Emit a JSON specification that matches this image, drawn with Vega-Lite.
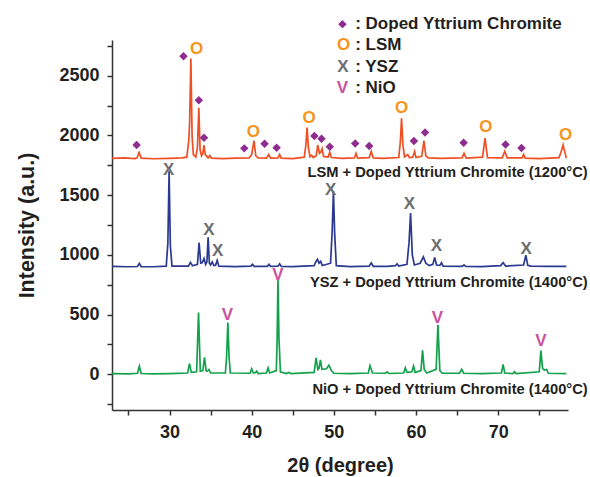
{
  "$schema": "https://vega.github.io/schema/vega-lite/v6.json",
  "width": 456,
  "height": 370,
  "autosize": {"type": "none"},
  "padding": {"left": 112, "top": 40, "right": 22, "bottom": 67},
  "background": "white",
  "config": {
    "view": {"stroke": null},
    "font": "Liberation Sans",
    "axis": {
      "grid": false,
      "domainColor": "#333333",
      "domainWidth": 1.5,
      "tickColor": "#333333",
      "tickWidth": 1.5,
      "tickSize": 5,
      "labelFont": "Liberation Sans",
      "labelFontWeight": "bold",
      "labelFontSize": 18,
      "labelColor": "#231f20",
      "titleFont": "Liberation Sans",
      "titleFontWeight": "bold",
      "titleFontSize": 20,
      "titleColor": "#231f20"
    }
  },
  "resolve": {"scale": {"color": "independent"}},
  "datasets": {
    "lines": [
      {"s":"L","x":23,"y":1808},{"s":"L","x":24.5,"y":1812},{"s":"L","x":25.8,"y":1806},{"s":"L","x":26.05,"y":1812},{"s":"L","x":26.3,"y":1858},{"s":"L","x":26.55,"y":1810},{"s":"L","x":28,"y":1805},{"s":"L","x":30,"y":1808},{"s":"L","x":31.5,"y":1812},{"s":"L","x":32.1,"y":1818},{"s":"L","x":32.35,"y":1960},{"s":"L","x":32.45,"y":2110},{"s":"L","x":32.6,"y":2645},{"s":"L","x":32.75,"y":1990},{"s":"L","x":32.9,"y":1840},{"s":"L","x":33.2,"y":1820},{"s":"L","x":33.4,"y":1900},{"s":"L","x":33.57,"y":2233},{"s":"L","x":33.72,"y":1880},{"s":"L","x":33.9,"y":1830},{"s":"L","x":34.05,"y":1850},{"s":"L","x":34.2,"y":1920},{"s":"L","x":34.35,"y":1840},{"s":"L","x":34.7,"y":1812},{"s":"L","x":34.9,"y":1832},{"s":"L","x":35.1,"y":1810},{"s":"L","x":36.5,"y":1806},{"s":"L","x":38,"y":1810},{"s":"L","x":39.7,"y":1812},{"s":"L","x":40.0,"y":1840},{"s":"L","x":40.28,"y":1956},{"s":"L","x":40.5,"y":1830},{"s":"L","x":40.8,"y":1812},{"s":"L","x":41.8,"y":1810},{"s":"L","x":42.07,"y":1840},{"s":"L","x":42.3,"y":1810},{"s":"L","x":43.2,"y":1812},{"s":"L","x":43.4,"y":1840},{"s":"L","x":43.6,"y":1810},{"s":"L","x":45,"y":1806},{"s":"L","x":46.4,"y":1818},{"s":"L","x":46.6,"y":1920},{"s":"L","x":46.74,"y":2067},{"s":"L","x":46.9,"y":1900},{"s":"L","x":47.1,"y":1822},{"s":"L","x":47.3,"y":1835},{"s":"L","x":47.5,"y":1815},{"s":"L","x":47.85,"y":1830},{"s":"L","x":48.04,"y":1920},{"s":"L","x":48.25,"y":1850},{"s":"L","x":48.4,"y":1860},{"s":"L","x":48.57,"y":1890},{"s":"L","x":48.75,"y":1825},{"s":"L","x":49.3,"y":1820},{"s":"L","x":49.5,"y":1860},{"s":"L","x":49.7,"y":1815},{"s":"L","x":51,"y":1808},{"s":"L","x":52.5,"y":1812},{"s":"L","x":52.7,"y":1850},{"s":"L","x":52.9,"y":1810},{"s":"L","x":54.3,"y":1815},{"s":"L","x":54.55,"y":1867},{"s":"L","x":54.8,"y":1812},{"s":"L","x":56,"y":1808},{"s":"L","x":57.9,"y":1815},{"s":"L","x":58.1,"y":1950},{"s":"L","x":58.24,"y":2145},{"s":"L","x":58.4,"y":1930},{"s":"L","x":58.6,"y":1820},{"s":"L","x":59.0,"y":1840},{"s":"L","x":59.2,"y":1815},{"s":"L","x":59.6,"y":1818},{"s":"L","x":59.83,"y":1867},{"s":"L","x":60.0,"y":1815},{"s":"L","x":60.7,"y":1825},{"s":"L","x":60.97,"y":1956},{"s":"L","x":61.2,"y":1830},{"s":"L","x":61.5,"y":1812},{"s":"L","x":63,"y":1808},{"s":"L","x":65.6,"y":1812},{"s":"L","x":65.85,"y":1850},{"s":"L","x":66.1,"y":1810},{"s":"L","x":68.1,"y":1818},{"s":"L","x":68.4,"y":1978},{"s":"L","x":68.7,"y":1815},{"s":"L","x":70.5,"y":1812},{"s":"L","x":70.8,"y":1867},{"s":"L","x":71.1,"y":1812},{"s":"L","x":72.9,"y":1812},{"s":"L","x":73.1,"y":1840},{"s":"L","x":73.3,"y":1810},{"s":"L","x":75,"y":1806},{"s":"L","x":77.4,"y":1815},{"s":"L","x":77.65,"y":1860},{"s":"L","x":77.9,"y":1922},{"s":"L","x":78.15,"y":1850},{"s":"L","x":78.3,"y":1812},
      {"s":"Y","x":23,"y":903},{"s":"Y","x":25,"y":900},{"s":"Y","x":26.1,"y":902},{"s":"Y","x":26.33,"y":928},{"s":"Y","x":26.55,"y":902},{"s":"Y","x":28,"y":900},{"s":"Y","x":29.6,"y":905},{"s":"Y","x":29.8,"y":1100},{"s":"Y","x":29.95,"y":1700},{"s":"Y","x":30.1,"y":1080},{"s":"Y","x":30.3,"y":905},{"s":"Y","x":32.3,"y":905},{"s":"Y","x":32.55,"y":937},{"s":"Y","x":32.8,"y":908},{"s":"Y","x":33.4,"y":920},{"s":"Y","x":33.6,"y":1103},{"s":"Y","x":33.8,"y":930},{"s":"Y","x":34.0,"y":935},{"s":"Y","x":34.2,"y":970},{"s":"Y","x":34.4,"y":920},{"s":"Y","x":34.55,"y":940},{"s":"Y","x":34.7,"y":1148},{"s":"Y","x":34.85,"y":930},{"s":"Y","x":35.0,"y":915},{"s":"Y","x":35.2,"y":940},{"s":"Y","x":35.4,"y":910},{"s":"Y","x":35.6,"y":912},{"s":"Y","x":35.8,"y":953},{"s":"Y","x":36.0,"y":905},{"s":"Y","x":38,"y":902},{"s":"Y","x":39.9,"y":905},{"s":"Y","x":40.1,"y":920},{"s":"Y","x":40.3,"y":904},{"s":"Y","x":41.9,"y":904},{"s":"Y","x":42.1,"y":920},{"s":"Y","x":42.3,"y":904},{"s":"Y","x":43.2,"y":905},{"s":"Y","x":43.4,"y":925},{"s":"Y","x":43.6,"y":903},{"s":"Y","x":45,"y":902},{"s":"Y","x":47.6,"y":910},{"s":"Y","x":47.8,"y":940},{"s":"Y","x":48.0,"y":962},{"s":"Y","x":48.2,"y":930},{"s":"Y","x":48.4,"y":945},{"s":"Y","x":48.6,"y":910},{"s":"Y","x":49.6,"y":930},{"s":"Y","x":49.8,"y":1200},{"s":"Y","x":49.95,"y":1535},{"s":"Y","x":50.1,"y":1180},{"s":"Y","x":50.3,"y":910},{"s":"Y","x":52,"y":902},{"s":"Y","x":54.3,"y":905},{"s":"Y","x":54.55,"y":933},{"s":"Y","x":54.8,"y":904},{"s":"Y","x":56.5,"y":904},{"s":"Y","x":57.5,"y":910},{"s":"Y","x":57.7,"y":925},{"s":"Y","x":57.9,"y":906},{"s":"Y","x":58.9,"y":920},{"s":"Y","x":59.15,"y":1100},{"s":"Y","x":59.34,"y":1350},{"s":"Y","x":59.55,"y":1000},{"s":"Y","x":59.8,"y":915},{"s":"Y","x":60.5,"y":930},{"s":"Y","x":60.9,"y":983},{"s":"Y","x":61.2,"y":930},{"s":"Y","x":61.6,"y":910},{"s":"Y","x":62.05,"y":920},{"s":"Y","x":62.27,"y":978},{"s":"Y","x":62.5,"y":915},{"s":"Y","x":62.9,"y":912},{"s":"Y","x":63.1,"y":933},{"s":"Y","x":63.3,"y":905},{"s":"Y","x":65.6,"y":904},{"s":"Y","x":65.85,"y":915},{"s":"Y","x":66.1,"y":903},{"s":"Y","x":68,"y":902},{"s":"Y","x":70.3,"y":910},{"s":"Y","x":70.6,"y":935},{"s":"Y","x":70.9,"y":906},{"s":"Y","x":73.1,"y":915},{"s":"Y","x":73.37,"y":997},{"s":"Y","x":73.6,"y":912},{"s":"Y","x":74,"y":905},{"s":"Y","x":76,"y":903},{"s":"Y","x":78.3,"y":903},
      {"s":"N","x":23,"y":5},{"s":"N","x":25,"y":3},{"s":"N","x":26.1,"y":8},{"s":"N","x":26.33,"y":67},{"s":"N","x":26.55,"y":6},{"s":"N","x":28,"y":3},{"s":"N","x":30,"y":5},{"s":"N","x":32.2,"y":10},{"s":"N","x":32.43,"y":89},{"s":"N","x":32.65,"y":15},{"s":"N","x":33.3,"y":20},{"s":"N","x":33.53,"y":517},{"s":"N","x":33.75,"y":25},{"s":"N","x":34.05,"y":30},{"s":"N","x":34.26,"y":142},{"s":"N","x":34.45,"y":30},{"s":"N","x":34.6,"y":25},{"s":"N","x":34.8,"y":40},{"s":"N","x":35.0,"y":10},{"s":"N","x":36.8,"y":10},{"s":"N","x":36.95,"y":150},{"s":"N","x":37.1,"y":433},{"s":"N","x":37.25,"y":140},{"s":"N","x":37.4,"y":10},{"s":"N","x":39.8,"y":8},{"s":"N","x":40.0,"y":45},{"s":"N","x":40.2,"y":10},{"s":"N","x":40.4,"y":10},{"s":"N","x":40.6,"y":25},{"s":"N","x":40.8,"y":5},{"s":"N","x":41.8,"y":10},{"s":"N","x":42.0,"y":53},{"s":"N","x":42.2,"y":10},{"s":"N","x":43.0,"y":30},{"s":"N","x":43.1,"y":300},{"s":"N","x":43.2,"y":803},{"s":"N","x":43.32,"y":300},{"s":"N","x":43.5,"y":20},{"s":"N","x":44.2,"y":5},{"s":"N","x":44.5,"y":15},{"s":"N","x":44.8,"y":5},{"s":"N","x":47.6,"y":15},{"s":"N","x":47.84,"y":137},{"s":"N","x":48.05,"y":40},{"s":"N","x":48.2,"y":50},{"s":"N","x":48.37,"y":120},{"s":"N","x":48.55,"y":40},{"s":"N","x":49.1,"y":45},{"s":"N","x":49.4,"y":75},{"s":"N","x":49.7,"y":30},{"s":"N","x":50.0,"y":8},{"s":"N","x":52,"y":5},{"s":"N","x":54.2,"y":10},{"s":"N","x":54.4,"y":72},{"s":"N","x":54.7,"y":10},{"s":"N","x":56.3,"y":8},{"s":"N","x":56.5,"y":20},{"s":"N","x":56.7,"y":6},{"s":"N","x":58.5,"y":10},{"s":"N","x":58.7,"y":53},{"s":"N","x":58.9,"y":15},{"s":"N","x":59.5,"y":20},{"s":"N","x":59.7,"y":68},{"s":"N","x":59.9,"y":15},{"s":"N","x":60.6,"y":30},{"s":"N","x":60.8,"y":200},{"s":"N","x":61.0,"y":40},{"s":"N","x":61.3,"y":10},{"s":"N","x":62.45,"y":40},{"s":"N","x":62.67,"y":414},{"s":"N","x":62.9,"y":30},{"s":"N","x":63.2,"y":8},{"s":"N","x":65.3,"y":8},{"s":"N","x":65.56,"y":40},{"s":"N","x":65.8,"y":8},{"s":"N","x":68,"y":5},{"s":"N","x":70.4,"y":10},{"s":"N","x":70.6,"y":81},{"s":"N","x":70.8,"y":10},{"s":"N","x":71.8,"y":5},{"s":"N","x":72.0,"y":20},{"s":"N","x":72.2,"y":5},{"s":"N","x":75.0,"y":20},{"s":"N","x":75.2,"y":197},{"s":"N","x":75.4,"y":50},{"s":"N","x":75.6,"y":35},{"s":"N","x":75.9,"y":40},{"s":"N","x":76.1,"y":8},{"s":"N","x":78.3,"y":5}
    ],
    "diamonds": [
      {"x":26.0,"y":1920},{"x":31.7,"y":2664},{"x":33.57,"y":2295},{"x":34.2,"y":1981},{"x":39.1,"y":1892},{"x":41.57,"y":1931},{"x":43.04,"y":1898},{"x":47.63,"y":1995},{"x":48.5,"y":1973},{"x":49.5,"y":1906},{"x":52.6,"y":1933},{"x":54.3,"y":1912},{"x":59.75,"y":1953},{"x":61.1,"y":2025},{"x":65.8,"y":1939},{"x":70.9,"y":1925},{"x":72.84,"y":1895},{"x":51.05,"y":2933}
    ],
    "symbols": [
      {"t":"O","c":"O","x":33.3,"y":2722},{"t":"O","c":"O","x":40.2,"y":2033},{"t":"O","c":"O","x":47.0,"y":2145},{"t":"O","c":"O","x":58.24,"y":2228},{"t":"O","c":"O","x":68.5,"y":2067},{"t":"O","c":"O","x":78.2,"y":2006},{"t":"O","c":"O","x":51.2,"y":2762},
      {"t":"X","c":"X","x":29.9,"y":1711},{"t":"X","c":"X","x":34.8,"y":1206},{"t":"X","c":"X","x":35.85,"y":1028},{"t":"X","c":"X","x":49.6,"y":1545},{"t":"X","c":"X","x":59.2,"y":1428},{"t":"X","c":"X","x":62.5,"y":1072},{"t":"X","c":"X","x":73.4,"y":1045},{"t":"X","c":"X","x":51.1,"y":2575},
      {"t":"V","c":"V","x":37.05,"y":497},{"t":"V","c":"V","x":43.2,"y":831},{"t":"V","c":"V","x":62.6,"y":470},{"t":"V","c":"V","x":75.2,"y":275},{"t":"V","c":"V","x":51.05,"y":2395}
    ],
    "legendText": [
      {"t":": Doped Yttrium Chromite","x":52.6,"y":2933},
      {"t":": LSM","x":52.6,"y":2762},
      {"t":": YSZ","x":52.6,"y":2575},
      {"t":": NiO","x":52.6,"y":2395}
    ],
    "labels": [
      {"t":"LSM + Doped Yttrium Chromite (1200°C)","x":80.9,"y":1689},
      {"t":"YSZ + Doped Yttrium Chromite (1400°C)","x":80.9,"y":764},
      {"t":"NiO + Doped Yttrium Chromite (1400°C)","x":80.9,"y":-136}
    ]
  },
  "encoding": {
    "x": {
      "field": "x", "type": "quantitative",
      "scale": {"domain": [23, 78.5], "nice": false, "zero": false},
      "axis": {
        "title": "2θ (degree)",
        "values": [25, 30, 35, 40, 45, 50, 55, 60, 65, 70, 75],
        "labelExpr": "datum.value % 10 === 0 ? datum.label : ''",
        "labelPadding": 8,
        "titlePadding": 14
      }
    },
    "y": {
      "field": "y", "type": "quantitative",
      "scale": {"domain": [-300, 2800], "nice": false, "zero": false},
      "axis": {
        "title": "Intensity (a.u.)",
        "format": "d",
        "values": [-250, 0, 250, 500, 750, 1000, 1250, 1500, 1750, 2000, 2250, 2500, 2750],
        "labelExpr": "datum.value % 500 === 0 ? datum.label : ''",
        "labelPadding": 8,
        "titlePadding": 20,
        "titleFontSize": 21.5
      }
    }
  },
  "layer": [
    {
      "data": {"name": "lines"},
      "mark": {"type": "line", "strokeWidth": 1.7, "interpolate": "linear"},
      "encoding": {
        "color": {
          "field": "s", "type": "nominal", "legend": null,
          "scale": {"domain": ["L", "Y", "N"], "range": ["#f04e23", "#2b3990", "#13a14b"]}
        },
        "order": {"field": "x", "type": "quantitative"}
      }
    },
    {
      "data": {"name": "diamonds"},
      "mark": {"type": "point", "shape": "diamond", "filled": true, "size": 72, "color": "#8e2d8f", "opacity": 1}
    },
    {
      "data": {"name": "symbols"},
      "mark": {"type": "text", "font": "Liberation Sans", "fontWeight": "bold", "fontSize": 17, "baseline": "middle", "align": "center"},
      "encoding": {
        "text": {"field": "t"},
        "color": {
          "field": "c", "type": "nominal", "legend": null,
          "scale": {"domain": ["O", "X", "V"], "range": ["#f7941d", "#6d6e71", "#c951a0"]}
        }
      }
    },
    {
      "data": {"name": "legendText"},
      "mark": {"type": "text", "font": "Liberation Sans", "fontWeight": "bold", "fontSize": 17, "baseline": "middle", "align": "left", "color": "#231f20"},
      "encoding": {"text": {"field": "t"}}
    },
    {
      "data": {"name": "labels"},
      "mark": {"type": "text", "font": "Liberation Sans", "fontWeight": "bold", "fontSize": 14.7, "baseline": "middle", "align": "right", "color": "#231f20"},
      "encoding": {"text": {"field": "t"}}
    }
  ]
}
